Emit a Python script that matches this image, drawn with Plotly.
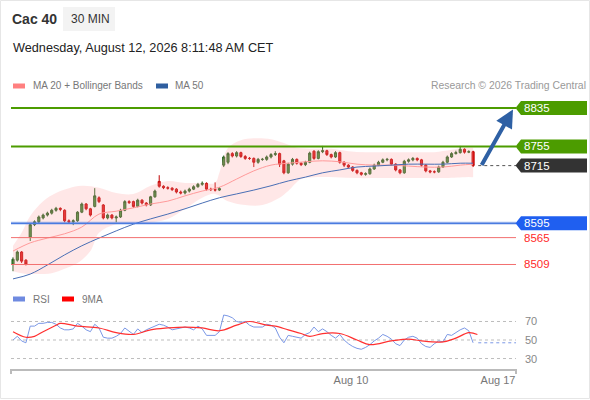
import plotly.graph_objects as go

W, H = 590, 400

# ---- price data (30 min bars) ----
opens = [8510, 8518, 8535, 8518, 8566, 8592, 8598, 8606, 8612, 8616,
         8622, 8626, 8622, 8600, 8598, 8600, 8618, 8635, 8625, 8630,
         8648, 8633, 8606, 8612, 8606, 8608, 8622, 8640, 8640, 8630,
         8643, 8637, 8633, 8650, 8682, 8672, 8669, 8668, 8666, 8660,
         8658, 8662, 8666, 8671, 8676, 8678, 8666, 8665, 8664, 8716,
         8722, 8740, 8735, 8742, 8734, 8730, 8730, 8722, 8728, 8728,
         8733, 8738, 8740, 8725, 8700, 8718, 8728, 8720, 8717, 8722,
         8745, 8730, 8744, 8746, 8738, 8733, 8742, 8722, 8716, 8712,
         8705, 8700, 8697, 8698, 8708, 8716, 8722, 8727, 8728, 8718,
         8706, 8700, 8724, 8727, 8730, 8727, 8716, 8704, 8702, 8702,
         8712, 8722, 8733, 8740, 8742, 8749, 8743, 8744]
closes = [8520, 8535, 8516, 8510, 8592, 8598, 8608, 8612, 8616, 8622,
          8626, 8624, 8600, 8598, 8600, 8618, 8635, 8625, 8612, 8652,
          8640, 8606, 8612, 8606, 8608, 8622, 8640, 8638, 8630, 8643,
          8637, 8633, 8650, 8662, 8672, 8669, 8668, 8665, 8660, 8658,
          8662, 8666, 8671, 8676, 8678, 8666, 8665, 8664, 8667, 8733,
          8740, 8735, 8742, 8734, 8730, 8730, 8722, 8728, 8728, 8733,
          8738, 8740, 8718, 8700, 8718, 8728, 8720, 8717, 8722, 8741,
          8730, 8744, 8746, 8738, 8733, 8742, 8722, 8716, 8712, 8705,
          8700, 8697, 8698, 8708, 8716, 8722, 8727, 8728, 8718, 8706,
          8700, 8724, 8727, 8730, 8727, 8716, 8704, 8702, 8702, 8712,
          8722, 8733, 8740, 8742, 8749, 8743, 8744, 8715]
highs = [8524, 8538, 8537, 8520, 8595, 8601, 8611, 8615, 8619, 8625,
         8629, 8628, 8624, 8603, 8603, 8620, 8638, 8637, 8627, 8668,
         8651, 8635, 8615, 8614, 8611, 8625, 8643, 8643, 8642, 8646,
         8645, 8639, 8652, 8665, 8695, 8674, 8672, 8670, 8668, 8663,
         8665, 8669, 8674, 8679, 8682, 8680, 8669, 8680, 8670, 8736,
         8743, 8743, 8745, 8744, 8737, 8733, 8732, 8731, 8731, 8736,
         8741, 8745, 8742, 8727, 8721, 8731, 8730, 8722, 8725, 8744,
         8747, 8747, 8756, 8748, 8740, 8745, 8744, 8724, 8718, 8714,
         8707, 8702, 8701, 8711, 8719, 8725, 8730, 8731, 8730, 8720,
         8708, 8727, 8730, 8733, 8732, 8729, 8718, 8706, 8705, 8715,
         8725, 8736, 8743, 8746, 8756, 8751, 8747, 8746]
lows = [8495, 8515, 8512, 8507, 8558, 8589, 8595, 8603, 8609, 8613,
        8619, 8620, 8597, 8595, 8591, 8598, 8616, 8622, 8609, 8628,
        8637, 8603, 8603, 8603, 8597, 8606, 8620, 8635, 8627, 8628,
        8634, 8630, 8631, 8648, 8669, 8666, 8665, 8662, 8657, 8655,
        8655, 8659, 8664, 8669, 8673, 8663, 8662, 8661, 8662, 8712,
        8718, 8732, 8732, 8731, 8727, 8727, 8712, 8719, 8725, 8725,
        8730, 8735, 8712, 8697, 8698, 8715, 8717, 8714, 8714, 8720,
        8727, 8728, 8741, 8735, 8730, 8731, 8719, 8712, 8709, 8702,
        8697, 8694, 8694, 8696, 8706, 8714, 8720, 8724, 8715, 8703,
        8697, 8698, 8721, 8724, 8724, 8713, 8701, 8699, 8699, 8700,
        8710, 8720, 8731, 8738, 8740, 8740, 8741, 8712]
bars = list(range(len(closes)))

# moving averages / bands, read at sampled bars
ma_bars = [0, 4, 8, 12, 16, 20, 24, 28, 32, 36, 40, 44, 48, 52, 56, 60,
           64, 68, 72, 76, 80, 84, 88, 92, 96, 100, 104, 107]
ma20 = [8537, 8554, 8564, 8573, 8587, 8614, 8620, 8627, 8635, 8641, 8652,
        8662, 8670, 8687, 8704, 8716, 8720, 8723, 8725, 8723, 8718, 8716,
        8716, 8714, 8712, 8712, 8716, 8718]
ma50 = [8479, 8489, 8508, 8529, 8548, 8564, 8579, 8593, 8604, 8614, 8625,
        8637, 8648, 8656, 8664, 8673, 8683, 8691, 8700, 8706, 8712, 8714,
        8716, 8718, 8718, 8718, 8720, 8720]
up_bars = [0, 2, 4, 7, 10, 13, 16, 20, 24, 28, 32, 36, 40, 44, 47, 48, 50,
           53, 56, 60, 63, 66, 70, 74, 78, 82, 86, 90, 94, 98, 102, 105, 107]
bb_upper = [8548, 8575, 8610, 8641, 8658, 8668, 8673, 8669, 8658, 8656,
            8673, 8683, 8679, 8679, 8679, 8700, 8752, 8768, 8772, 8770,
            8762, 8752, 8750, 8750, 8745, 8743, 8743, 8743, 8743, 8743,
            8748, 8752, 8752]
lo_bars = [0, 2, 5, 9, 12, 15, 18, 20, 24, 30, 36, 40, 44, 47, 50, 54, 58,
           62, 64, 67, 70, 75, 80, 85, 90, 95, 100, 105, 107]
bb_lower = [8495, 8491, 8489, 8491, 8500, 8512, 8537, 8575, 8593, 8595,
            8604, 8625, 8648, 8656, 8641, 8633, 8633, 8648, 8662, 8687,
            8691, 8691, 8689, 8689, 8689, 8689, 8689, 8691, 8691]

levels = [8835, 8755, 8715, 8595, 8565, 8509]
level_kind = ["res", "res", "last", "sup", "minor", "minor"]
target = 8835

# ---- RSI ----
rsi = [50, 54, 49, 47, 65, 65, 68, 68, 69, 69, 67, 63, 61, 61, 62, 68, 65,
       61, 59, 67, 63, 53, 52, 52, 54, 57, 63, 59, 56, 62, 58, 61, 63, 65,
       67, 66, 64, 61, 62, 63, 64, 63, 61, 65, 62, 55, 55, 55, 59, 77, 76,
       74, 70, 69, 70, 66, 64, 64, 64, 67, 66, 63, 53, 47, 55, 54, 53, 52,
       56, 58, 64, 59, 62, 59, 55, 52, 56, 50, 46, 43, 41, 40, 42, 45, 49,
       52, 56, 54, 51, 46, 44, 50, 53, 54, 52, 46, 43, 42, 46, 49, 48, 56,
       55, 58, 61, 63, 60, 47]
ma9_bars = [0, 3, 5, 7, 10, 11, 15, 20, 24, 28, 32, 36, 40, 44, 48, 52, 55,
            59, 61, 64, 67, 69, 72, 76, 80, 83, 88, 92, 95, 100, 103, 106, 108]
rsi_ma9 = [59, 53, 54, 59, 66, 68, 65, 63, 58, 56, 61, 63, 64, 63, 60, 66,
           70, 66, 65, 61, 57, 54, 57, 57, 50, 45, 49, 51, 49, 48, 52, 58, 56]
rsi_lines = [70, 50, 30]
tick_pos = [78.6, 112.8]
tick_text = ["Aug 10", "Aug 17"]

# ---- geometry ----
FONT = "Liberation Sans, Arial, sans-serif"
X0, X1 = 11, 516
P_TOP, P_BOT = 96, 286
R_TOP, R_BOT = 305, 369
p_range = [8464.2, 8860.0]
r_range = [18.7, 87.8]
x_range = [-0.47, 116.98]
units_per_px = (p_range[1] - p_range[0]) / (P_BOT - P_TOP)


def px(x):
    return x / W


def py(y):
    return 1 - y / H


fig = go.Figure()

fig.add_trace(go.Scatter(x=up_bars, y=bb_upper, mode="lines", line=dict(width=0, shape="spline"),
                         hoverinfo="skip", showlegend=False))
fig.add_trace(go.Scatter(x=lo_bars, y=bb_lower, mode="lines", line=dict(width=0, shape="spline"),
                         fill="tonexty", fillcolor="rgba(255,160,160,0.25)", hoverinfo="skip",
                         showlegend=False))
fig.add_trace(go.Scatter(x=ma_bars, y=ma20, mode="lines",
                         line=dict(color="#ff9a9a", width=1, shape="spline"), showlegend=False))
fig.add_trace(go.Scatter(x=ma_bars, y=ma50, mode="lines",
                         line=dict(color="#4a6fb5", width=1, shape="spline"), showlegend=False))

fig.add_trace(go.Candlestick(
    x=bars, open=opens, high=highs, low=lows, close=closes,
    increasing=dict(line=dict(color="#24601f", width=1), fillcolor="#3f8f35"),
    decreasing=dict(line=dict(color="#c00000", width=1), fillcolor="#e01b1b"),
    whiskerwidth=0, showlegend=False,
))

fig.add_trace(go.Scatter(x=bars, y=rsi, mode="lines", yaxis="y2",
                         line=dict(color="#7b98e6", width=1), showlegend=False))
fig.add_trace(go.Scatter(x=ma9_bars, y=rsi_ma9, mode="lines", yaxis="y2",
                         line=dict(color="#ff3030", width=1.2, shape="spline"), showlegend=False))

shapes = []
annotations = []

# frame
shapes.append(dict(type="rect", xref="paper", yref="paper", x0=px(0.5), x1=px(589.5),
                   y0=py(398.5), y1=py(0.5), line=dict(color="#e6e6e6", width=1), layer="below"))

# level lines + labels
box_colors = {"res": "#4c9c00", "last": "#333333", "sup": "#1f5ff0"}
line_colors = {"res": "#4c9c00", "sup": "#4a7be0", "minor": "#f27070"}
half = 7 * units_per_px
for lv, kind in zip(levels, level_kind):
    if kind == "last":
        shapes.append(dict(type="line", xref="x", yref="y", x0=bars[-1] + 1.2, x1=x_range[1],
                           y0=lv, y1=lv, line=dict(color="#555", width=1, dash="dot")))
    elif kind == "sup":
        shapes.append(dict(type="line", xref="x domain", yref="y", x0=0, x1=1, y0=lv, y1=lv,
                           line=dict(color="rgba(74,123,224,0.25)", width=3.5)))
        shapes.append(dict(type="line", xref="x domain", yref="y", x0=0, x1=1, y0=lv, y1=lv,
                           line=dict(color=line_colors[kind], width=1.5)))
    else:
        shapes.append(dict(type="line", xref="x domain", yref="y", x0=0, x1=1, y0=lv, y1=lv,
                           line=dict(color=line_colors[kind], width=2 if kind == "res" else 1)))
    if kind in box_colors:
        a, b, c = px(515.5), px(521), px(587)
        path = (f"M {a},{lv} L {b},{lv + half} L {c},{lv + half} "
                f"L {c},{lv - half} L {b},{lv - half} Z")
        shapes.append(dict(type="path", xref="paper", yref="y", path=path,
                           fillcolor=box_colors[kind], line=dict(width=0)))
        color = "white"
    else:
        color = "#ff2a2a"
    annotations.append(dict(xref="paper", yref="y", x=px(522), y=lv, text=str(lv),
                            showarrow=False, xanchor="left", yanchor="middle",
                            font=dict(family=FONT, size=11.5, color=color)))

# forecast arrow
annotations.append(dict(xref="x", yref="y", axref="x", ayref="y",
                        x=x_range[1] - 0.7, y=target - 3, ax=bars[-1] + 1.8, ay=closes[-1] - 2,
                        text="", showarrow=True, arrowhead=2, arrowsize=0.9, arrowwidth=4,
                        arrowcolor="#2e60a4", standoff=0))

# RSI grid
for v in rsi_lines:
    shapes.append(dict(type="line", xref="x domain", yref="y2", x0=0, x1=1, y0=v, y1=v,
                       line=dict(color="#bdbdbd", width=1, dash="dot"), layer="below"))
    annotations.append(dict(xref="paper", yref="y2", x=px(523), y=v, text=str(v), showarrow=False,
                            xanchor="left", font=dict(family=FONT, size=11, color="#888")))
shapes.append(dict(type="line", xref="x", yref="y2", x0=bars[-1] + 1.2, x1=x_range[1],
                   y0=rsi[-1], y1=rsi[-1], line=dict(color="#7b98e6", width=1, dash="dot")))

# axis end ticks
for xe in (X0, X1):
    shapes.append(dict(type="line", xref="paper", yref="paper", x0=px(xe), x1=px(xe),
                       y0=py(R_BOT), y1=py(R_BOT + 5), line=dict(color="#bbbbbb", width=2)))

# header
shapes.append(dict(type="rect", xref="paper", yref="paper", x0=px(63), x1=px(115),
                   y0=py(31), y1=py(7), fillcolor="#f3f3f3", line=dict(width=0)))
annotations += [
    dict(x=px(10), y=py(19), text="<b>Cac 40</b>", font=dict(size=14, color="#333")),
    dict(x=px(69), y=py(19), text="30 MIN", font=dict(size=12, color="#333")),
    dict(x=px(11), y=py(48), text="Wednesday, August 12, 2026 8:11:48 AM CET",
         font=dict(size=12.7, color="#222")),
    dict(x=px(31), y=py(86), text="MA 20 + Bollinger Bands", font=dict(size=10, color="#777")),
    dict(x=px(173), y=py(86), text="MA 50", font=dict(size=10, color="#777")),
    dict(x=px(588), y=py(86), text="Research \u00a9 2026 Trading Central", xanchor="right",
         font=dict(size=10.4, color="#999")),
    dict(x=px(31), y=py(299), text="RSI", font=dict(size=10, color="#777")),
    dict(x=px(80), y=py(299), text="9MA", font=dict(size=10, color="#777")),
]
for a in annotations[-8:]:
    a.setdefault("xanchor", "left")
    a.update(xref="paper", yref="paper", showarrow=False, yanchor="middle")
    a["font"]["family"] = FONT

swatches = [(13, 25, 86, "#ff8080"), (156, 168, 86, "#2f5fa0"),
            (13, 25, 299, "#6f8ae0"), (62, 74, 299, "#ff0000")]
for xa, xb, yc, col in swatches:
    shapes.append(dict(type="rect", xref="paper", yref="paper", x0=px(xa), x1=px(xb),
                       y0=py(yc + 2.5), y1=py(yc - 2.5), fillcolor=col, line=dict(width=0)))

fig.update_layout(
    width=W, height=H, margin=dict(l=0, r=0, t=0, b=0),
    paper_bgcolor="white", plot_bgcolor="rgba(0,0,0,0)",
    font=dict(family=FONT),
    showlegend=False, shapes=shapes, annotations=annotations,
    xaxis=dict(domain=[px(X0), px(X1)], range=x_range, anchor="y2",
               showline=True, linecolor="#bbbbbb", linewidth=2, showgrid=False, zeroline=False,
               tickvals=tick_pos, ticktext=tick_text, ticks="",
               tickfont=dict(family=FONT, size=11, color="#777"),
               rangeslider=dict(visible=False), fixedrange=True),
    yaxis=dict(domain=[py(P_BOT), py(P_TOP)], range=p_range, visible=False, fixedrange=True),
    yaxis2=dict(domain=[py(R_BOT), py(R_TOP)], range=r_range, visible=False, fixedrange=True),
)

fig.write_html("out.html", config={"displayModeBar": False},
               post_script="document.body.style.margin='0';")
